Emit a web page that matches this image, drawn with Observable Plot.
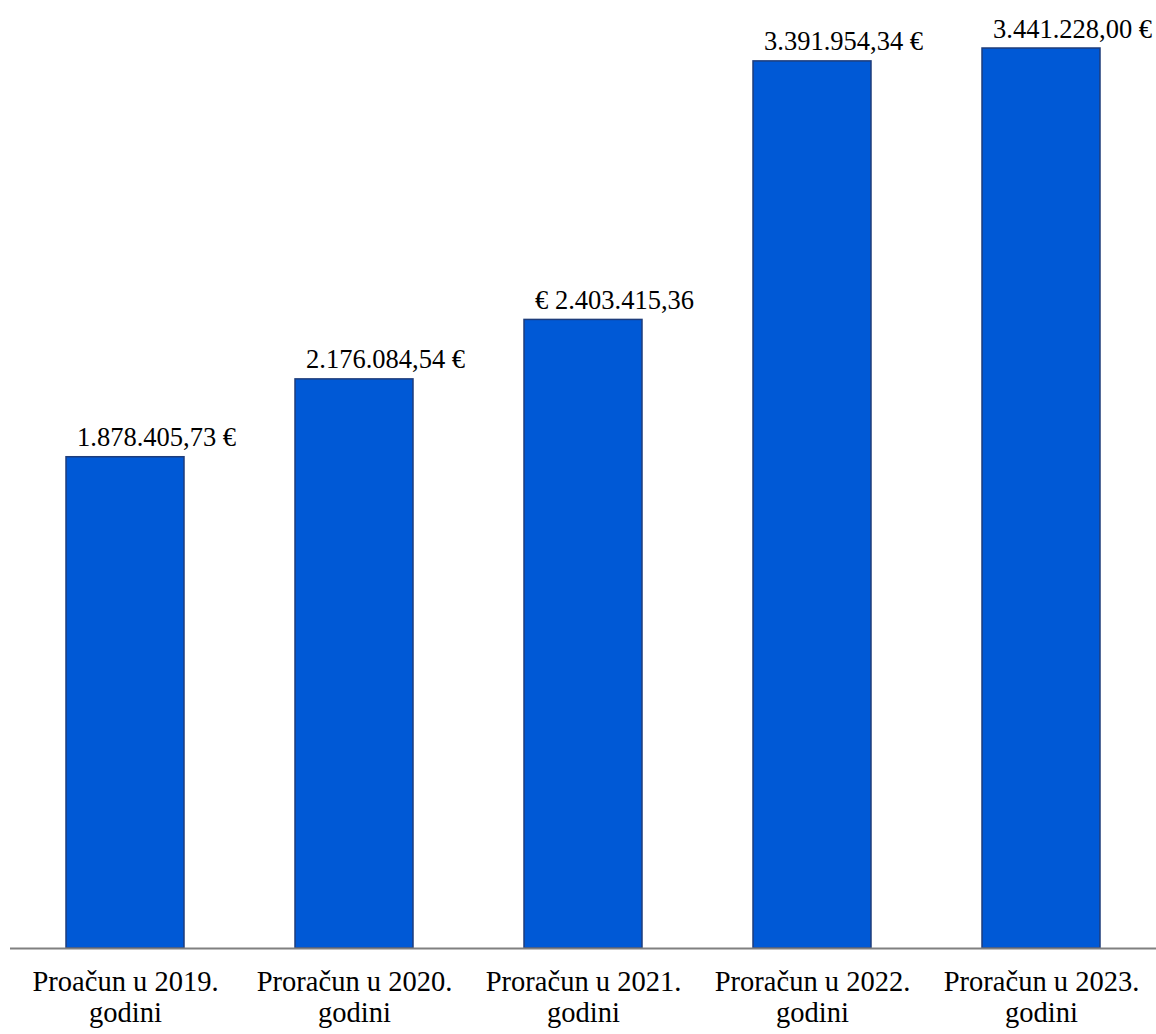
<!DOCTYPE html>
<html>
<head>
<meta charset="utf-8">
<script src="https://cdn.jsdelivr.net/npm/d3@7"></script>
<script src="https://cdn.jsdelivr.net/npm/@observablehq/plot@0.6"></script>
<style>
  html, body { margin: 0; padding: 0; background: #fff; }
  #chart svg { display: block; }
</style>
</head>
<body>
<div id="chart"></div>
<script>
const categories = ["Proačun u 2019.", "Proračun u 2020.", "Proračun u 2021.", "Proračun u 2022.", "Proračun u 2023."];
const categorySuffix = "godini";
const values = [1878405.73, 2176084.54, 2403415.36, 3391954.34, 3441228.00];
const valueLabels = ["1.878.405,73 €", "2.176.084,54 €", "€ 2.403.415,36", "3.391.954,34 €", "3.441.228,00 €"];

const data = categories.map((c, i) => ({ cat: c, value: values[i], label: valueLabels[i] }));

const chart = Plot.plot({
  width: 1156,
  height: 1034,
  marginLeft: 10,
  marginRight: 0,
  marginTop: 48,
  marginBottom: 86,
  style: { fontFamily: "'Liberation Serif', serif", fontSize: "27px", color: "#000", background: "#fff", overflow: "visible" },
  x: { domain: categories, paddingInner: 0.485, paddingOuter: 0.2425, label: null },
  y: { domain: [0, d3.max(values)], axis: null },
  marks: [
    Plot.barY(data, { x: "cat", y: "value", fill: "#0059D6", stroke: "#1E3D7B", strokeWidth: 1.5 }),
    Plot.ruleY([0], { stroke: "#808080", strokeWidth: 2 }),
    Plot.text(data, { x: "cat", y: "value", text: "label", dy: -11, dx: 31, lineAnchor: "bottom", fontSize: 26.5, fill: "#000" }),
    Plot.axisX({ tickSize: 0, tickPadding: 20, fontSize: 28.5, lineHeight: 1.1, tickFormat: d => d + "\n" + categorySuffix, label: null, fill: "#000" })
  ]
});
document.getElementById("chart").appendChild(chart);
</script>
</body>
</html>
